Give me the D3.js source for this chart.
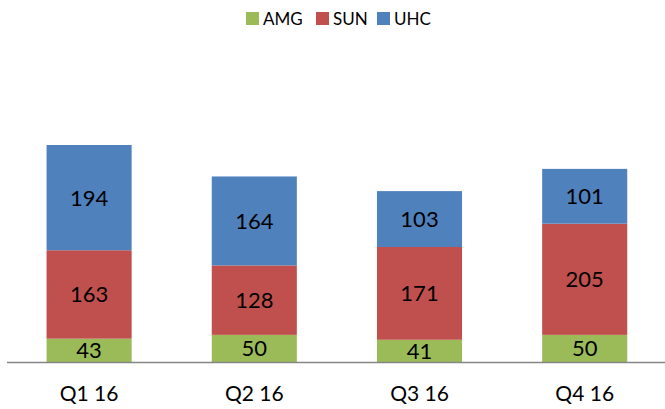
<!DOCTYPE html>
<html>
<head>
<meta charset="utf-8">
<script src="https://cdn.jsdelivr.net/npm/d3@7"></script>
<style>
  body { margin: 0; background: #fff; }
  text { font-family: Lato, "Open Sans", sans-serif; fill: #000; }
</style>
</head>
<body>
<script>
var categories = ["Q1 16", "Q2 16", "Q3 16", "Q4 16"];
var seriesNames = ["AMG", "SUN", "UHC"];
var amg = [43, 50, 41, 50];
var sun = [163, 128, 171, 205];
var uhc = [194, 164, 103, 101];
var colors = ["#9BBB59", "#C0504D", "#4F81BD"];

var width = 665, height = 409;

var svg = d3.select("body")
  .append("svg")
  .attr("width", width)
  .attr("height", height);

// build rows for the stack
var rows = categories.map(function(c, i) {
  return { cat: c, AMG: amg[i], SUN: sun[i], UHC: uhc[i] };
});
var stack = d3.stack().keys(seriesNames)(rows);

var x = d3.scaleBand()
  .domain(categories)
  .range([6.5, 667.3])
  .paddingInner(0.485)
  .paddingOuter(0.2425);

var y = d3.scaleLinear()
  .domain([0, 400])
  .range([362, 145]);

var color = d3.scaleOrdinal().domain(seriesNames).range(colors);

// bars
var layers = svg.selectAll("g.layer")
  .data(stack)
  .enter().append("g")
  .attr("class", "layer")
  .attr("fill", function(d) { return color(d.key); });

layers.selectAll("rect")
  .data(function(d) { return d; })
  .enter().append("rect")
  .attr("x", function(d) { return x(d.data.cat); })
  .attr("y", function(d) { return y(d[1]); })
  .attr("width", x.bandwidth())
  .attr("height", function(d) { return y(d[0]) - y(d[1]); });

// value labels
layers.selectAll("text")
  .data(function(d) { return d; })
  .enter().append("text")
  .attr("x", function(d) { return x(d.data.cat) + x.bandwidth() / 2; })
  .attr("y", function(d) { return (y(d[0]) + y(d[1])) / 2; })
  .attr("dy", "0.36em")
  .attr("text-anchor", "middle")
  .style("font-size", "22px")
  .text(function(d) { return d[1] - d[0]; });

// x axis
var xAxis = svg.append("g")
  .attr("transform", "translate(0,362)")
  .call(d3.axisBottom(x).tickSize(0).tickPadding(24));
xAxis.select(".domain").attr("stroke", "#868686").attr("stroke-width", 1.5);
xAxis.selectAll("text")
  .style("font-family", "Lato, sans-serif")
  .style("font-size", "21px")
  .attr("fill", "#000");

// legend
var legendX = [246, 316, 377];
var legend = svg.selectAll("g.legend")
  .data(seriesNames)
  .enter().append("g")
  .attr("class", "legend")
  .attr("transform", function(d, i) { return "translate(" + legendX[i] + ",12)"; });

legend.append("rect")
  .attr("width", 13)
  .attr("height", 13)
  .attr("fill", function(d) { return color(d); });

legend.append("text")
  .attr("x", 17)
  .attr("y", 6.5)
  .attr("dy", "0.36em")
  .style("font-size", "17px")
  .text(function(d) { return d; });
</script>
</body>
</html>
